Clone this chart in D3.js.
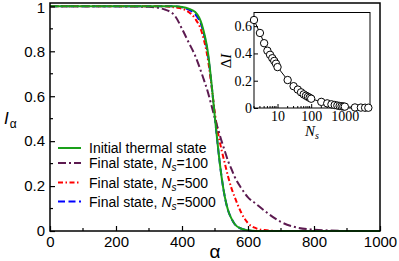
<!DOCTYPE html>
<html>
<head>
<meta charset="utf-8">
<script src="https://cdn.jsdelivr.net/npm/d3@7"></script>
<style>
  body { margin: 0; background: #fff; }
  svg { display: block; }
</style>
</head>
<body>
<svg id="svg" width="399" height="261"></svg>
<script>
// main panel: I_alpha vs alpha
const alpha = [0, 100, 200, 300, 350, 380, 400, 420, 440, 460, 480, 490, 500, 510, 520, 530, 540, 550, 560, 580, 600, 625, 650, 700, 750, 800, 850, 900, 1000];
const initialThermal = [1, 1, 1, 1, 1, 1, 0.997, 0.99, 0.975, 0.92, 0.78, 0.65, 0.5, 0.36, 0.24, 0.15, 0.09, 0.055, 0.03, 0.01, 0.003, 0, 0, 0, 0, 0, 0, 0, 0];
const finalNs100 = [1, 1, 1, 0.998, 0.985, 0.955, 0.9, 0.84, 0.78, 0.7, 0.61, 0.555, 0.5, 0.45, 0.4, 0.355, 0.31, 0.275, 0.24, 0.19, 0.15, 0.12, 0.09, 0.04, 0.015, 0.006, 0.002, 0, 0];
const finalNs500 = [1, 1, 1, 1, 1, 0.995, 0.99, 0.975, 0.945, 0.885, 0.75, 0.64, 0.52, 0.43, 0.36, 0.3, 0.24, 0.19, 0.15, 0.08, 0.035, 0.012, 0.004, 0, 0, 0, 0, 0, 0];
const finalNs5000 = [1, 1, 1, 1, 1, 1, 0.996, 0.985, 0.965, 0.91, 0.77, 0.645, 0.5, 0.36, 0.24, 0.15, 0.09, 0.055, 0.03, 0.01, 0.003, 0, 0, 0, 0, 0, 0, 0, 0];

const xTicks = [0, 200, 400, 600, 800, 1000];
const yTicks = [0, 0.2, 0.4, 0.6, 0.8, 1];

// inset: Delta I vs N_s
const insetNs = [2, 3, 4, 5, 6, 7, 8, 9, 10, 20, 30, 40, 50, 60, 70, 80, 90, 100, 200, 300, 400, 500, 600, 700, 800, 900, 1000, 2000, 3000, 4000, 5000];
const deltaI = [0.645, 0.55, 0.475, 0.42, 0.39, 0.365, 0.345, 0.325, 0.3, 0.205, 0.16, 0.135, 0.115, 0.1, 0.09, 0.082, 0.075, 0.068, 0.045, 0.034, 0.027, 0.022, 0.018, 0.015, 0.013, 0.011, 0.01, 0.004, 0.003, 0.002, 0.002];
const insetXTicks = [10, 100, 1000];
const insetYTicks = [0, 0.2, 0.4, 0.6];

const series = [
  { name: 'Initial thermal state', values: initialThermal, color: '#1aa01a', dash: null, ns: null },
  { name: 'Final state, ', values: finalNs100, color: '#5c1a50', dash: '8,3,2,3', ns: '100' },
  { name: 'Final state, ', values: finalNs500, color: '#ff0000', dash: '5,2.5,1.5,2.5', ns: '500' },
  { name: 'Final state, ', values: finalNs5000, color: '#0000ff', dash: '7,3.5', ns: '5000' }
];

const svg = d3.select('#svg');
const sans = 'Liberation Sans, Arial, Helvetica, sans-serif';
const serif = 'Liberation Serif, Times New Roman, serif';

const x = d3.scaleLinear().domain([0, 1000]).range([50, 380]);
const y = d3.scaleLinear().domain([0, 1.015]).range([231, 3]);

// curves
const line = d3.line()
  .x((d, i) => x(alpha[i]))
  .y(d => y(d))
  .curve(d3.curveMonotoneX);

const curves = svg.append('g');
series.slice().reverse().forEach(s => {
  curves.append('path')
    .attr('d', line(s.values))
    .attr('fill', 'none')
    .attr('stroke', s.color)
    .attr('stroke-width', 2)
    .attr('stroke-dasharray', s.dash);
});

// main frame
svg.append('rect')
  .attr('x', x(0)).attr('y', y.range()[1])
  .attr('width', x(1000) - x(0)).attr('height', y(0) - y.range()[1])
  .attr('fill', 'none').attr('stroke', '#000').attr('stroke-width', 1.5);

const xAxis = svg.append('g')
  .attr('transform', 'translate(0,' + y(0) + ')')
  .call(d3.axisBottom(x).tickValues(xTicks).tickSizeInner(-5).tickSizeOuter(0).tickPadding(5).tickFormat(d3.format('d')));
xAxis.append('g').selectAll('line')
  .data(d3.range(100, 1000, 200))
  .join('line')
  .attr('x1', d => x(d)).attr('x2', d => x(d))
  .attr('y1', 0).attr('y2', -3).attr('stroke', '#000');

const yAxis = svg.append('g')
  .attr('transform', 'translate(' + x(0) + ',0)')
  .call(d3.axisLeft(y).tickValues(yTicks).tickSizeInner(-5).tickSizeOuter(0).tickPadding(5)
    .tickFormat(d => (d === 0 || d === 1) ? String(d) : d3.format('.1f')(d)));
yAxis.append('g').selectAll('line')
  .data([0.1, 0.3, 0.5, 0.7, 0.9])
  .join('line')
  .attr('x1', 0).attr('x2', 3)
  .attr('y1', d => y(d)).attr('y2', d => y(d)).attr('stroke', '#000');

[xAxis, yAxis].forEach(a => {
  a.selectAll('.domain').remove();
  a.selectAll('text').attr('font-family', sans).attr('font-size', 15).attr('fill', '#000');
  a.selectAll('line').attr('stroke-width', 1.2);
});
yAxis.selectAll('.tick text').filter(d => d === 1).attr('dy', '0.42em');

// axis titles
const yl = svg.append('text').attr('x', 4).attr('y', 124)
  .attr('font-family', sans).attr('font-size', 17);
yl.append('tspan').attr('font-style', 'italic').text('I');
yl.append('tspan').attr('font-size', 12).attr('dy', 4).attr('dx', 1).text('α');

svg.append('text').attr('x', 215).attr('y', 258)
  .attr('text-anchor', 'middle').attr('font-family', sans).attr('font-size', 19)
  .text('α');

// legend
const legendY = [148, 163, 182.5, 201.5];
const legend = svg.append('g');
series.forEach((s, i) => {
  legend.append('line')
    .attr('x1', 58).attr('x2', 81)
    .attr('y1', legendY[i]).attr('y2', legendY[i])
    .attr('stroke', s.color).attr('stroke-width', 2)
    .attr('stroke-dasharray', s.dash);
  const t = legend.append('text')
    .attr('x', 89).attr('y', legendY[i] + 5)
    .attr('font-family', sans).attr('font-size', 14);
  t.append('tspan').text(s.name);
  if (s.ns) {
    t.append('tspan').attr('font-style', 'italic').text('N');
    t.append('tspan').attr('font-style', 'italic').attr('font-size', 10).attr('dy', 3).text('s');
    t.append('tspan').attr('dy', -3).text('=' + s.ns);
  }
});

// inset
const ix = d3.scaleLog().domain([2, 5600]).range([254, 370]);
const iy = d3.scaleLinear().domain([0, 0.7]).range([108, 12.5]);

const inset = svg.append('g');
inset.append('rect')
  .attr('x', 254).attr('y', iy(0.7)).attr('width', 370 - 254).attr('height', iy(0) - iy(0.7))
  .attr('fill', '#fff').attr('stroke', '#000').attr('stroke-width', 1);

const ixAxis = inset.append('g')
  .attr('transform', 'translate(0,' + iy(0) + ')')
  .call(d3.axisBottom(ix).tickValues(insetXTicks).tickSizeInner(-4).tickSizeOuter(0).tickPadding(3).tickFormat(d3.format('d')));
const minorN = [];
[1, 10, 100, 1000].forEach(dec => d3.range(2, 10).forEach(k => {
  const v = k * dec;
  if (v >= 2 && v <= 5600 && insetXTicks.indexOf(v) < 0) minorN.push(v);
}));
ixAxis.append('g').selectAll('line')
  .data(minorN).join('line')
  .attr('x1', d => ix(d)).attr('x2', d => ix(d))
  .attr('y1', 0).attr('y2', -2).attr('stroke', '#000');

const iyAxis = inset.append('g')
  .attr('transform', 'translate(254,0)')
  .call(d3.axisLeft(iy).tickValues(insetYTicks).tickSizeInner(-4).tickSizeOuter(0).tickPadding(2)
    .tickFormat(d => d === 0 ? '0' : d3.format('.1f')(d)));

[ixAxis, iyAxis].forEach(a => {
  a.selectAll('.domain').remove();
  a.selectAll('text').attr('font-family', serif).attr('font-size', 14).attr('fill', '#000');
});

const iline = d3.line()
  .x((d, i) => ix(insetNs[i]))
  .y(d => iy(d));
inset.append('path')
  .attr('d', iline(deltaI))
  .attr('fill', 'none').attr('stroke', '#000').attr('stroke-width', 1);
inset.append('g').selectAll('circle')
  .data(deltaI).join('circle')
  .attr('cx', (d, i) => ix(insetNs[i])).attr('cy', d => iy(d))
  .attr('r', 3.7).attr('fill', '#fff').attr('stroke', '#000').attr('stroke-width', 1);

const dl = inset.append('text')
  .attr('transform', 'translate(231,61) rotate(-90)')
  .attr('text-anchor', 'middle').attr('font-family', serif).attr('font-size', 15);
dl.append('tspan').text('Δ');
dl.append('tspan').attr('font-style', 'italic').text('I');

const nl = inset.append('text').attr('x', 305).attr('y', 136)
  .attr('font-family', serif).attr('font-size', 15);
nl.append('tspan').attr('font-style', 'italic').text('N');
nl.append('tspan').attr('font-style', 'italic').attr('font-size', 10).attr('dy', 3).text('s');
</script>
</body>
</html>
